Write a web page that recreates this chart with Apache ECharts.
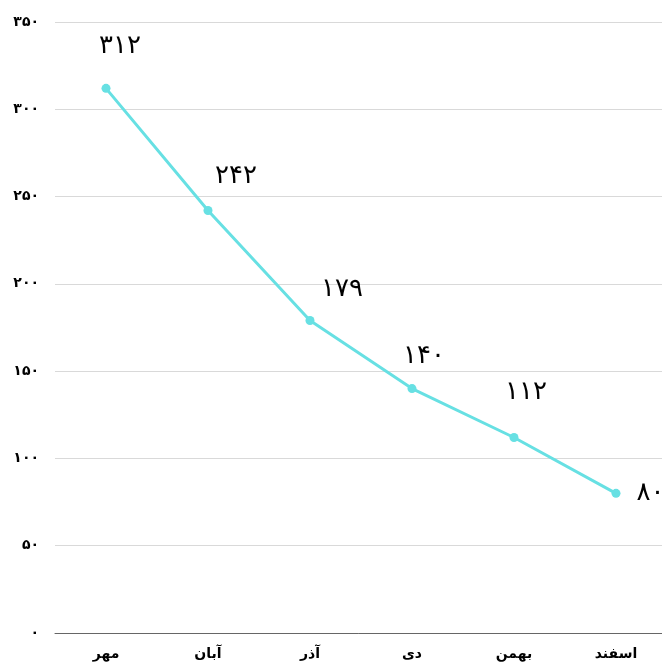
<!DOCTYPE html>
<html><head><meta charset="utf-8">
<script src="https://cdn.jsdelivr.net/npm/echarts@6/dist/echarts.min.js"></script>
<style>html,body{margin:0;padding:0;background:#fff}#c{width:662px;height:666px}</style>
</head><body><div id="c"></div>
<script>
const categories = ['مهر', 'آبان', 'آذر', 'دی', 'بهمن', 'اسفند'];
const values = [312, 242, 179, 140, 112, 80];
const yMin = 0, yMax = 350, yStep = 50;

const fa = n => String(n).replace(/\d/g, d => '۰۱۲۳۴۵۶۷۸۹'[d]);
const labelOffsets = [[14, -20], [28, -12], [32, -9], [12, -10], [12, -23], [0, 0]];

const chart = echarts.init(document.getElementById('c'));
chart.setOption({
  animation: false,
  grid: { left: 55, right: -5, top: 22, bottom: 33, containLabel: false, outerBoundsMode: 'none' },
  xAxis: {
    type: 'category', data: categories,
    axisLine: { lineStyle: { color: '#666', width: 1 } },
    axisTick: { show: false },
    axisLabel: { color: '#000', fontFamily: 'DejaVu Sans', fontWeight: 'bold', fontSize: 14, margin: 14 }
  },
  yAxis: {
    type: 'value', min: yMin, max: yMax, interval: yStep,
    axisLine: { show: false }, axisTick: { show: false },
    splitLine: { lineStyle: { color: '#d9d9d9' } },
    axisLabel: { color: '#000', fontFamily: 'DejaVu Sans', fontWeight: 'bold', fontSize: 14, margin: 16, formatter: v => fa(v) }
  },
  series: [{
    type: 'line',
    data: values.map((v, i) => ({
      value: v,
      label: i === values.length - 1 ? { position: 'right', distance: 16 } : { position: 'top', offset: labelOffsets[i] }
    })),
    symbol: 'circle', symbolSize: 9,
    lineStyle: { color: '#67e0e3', width: 3 },
    itemStyle: { color: '#67e0e3' },
    label: { show: true, color: '#000', fontFamily: 'DejaVu Sans', fontSize: 26, formatter: p => fa(p.value) }
  }]
});
</script></body></html>
